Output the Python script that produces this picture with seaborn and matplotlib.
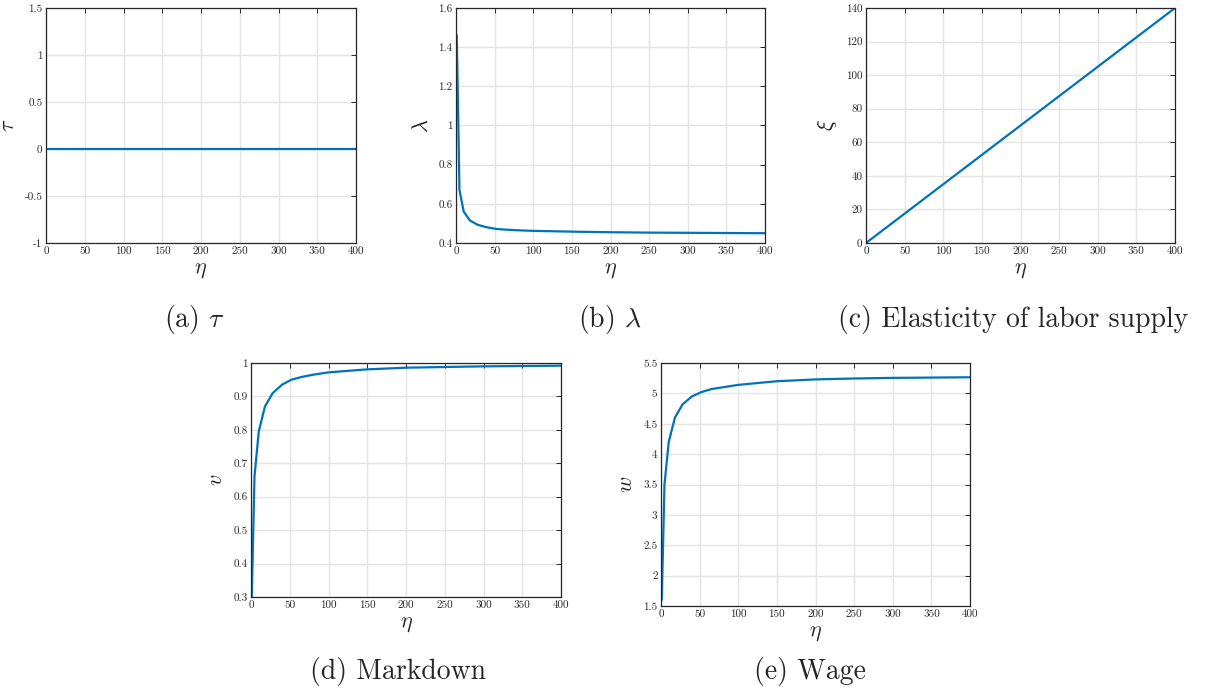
import numpy as np
import pandas as pd
import matplotlib
matplotlib.use("Agg")
import matplotlib.pyplot as plt
import seaborn as sns

# Grid of eta values and the equilibrium objects computed on it
eta = [1, 4.5, 10, 18, 28, 40, 52, 65, 80, 100, 150, 200, 250, 300, 350, 400]
tau = [0.0] * len(eta)
lam = [1.46, 0.67, 0.56, 0.515, 0.493, 0.48, 0.472, 0.468, 0.465, 0.462,
       0.458, 0.455, 0.453, 0.452, 0.451, 0.45]
xi = [0.35, 1.6, 3.5, 6.3, 9.8, 14, 18.2, 22.75, 28, 35,
      52.5, 70, 87.5, 105, 122.5, 140]
markdown = [0.3, 0.66, 0.795, 0.87, 0.91, 0.935, 0.95, 0.958, 0.965, 0.972,
            0.981, 0.986, 0.988, 0.99, 0.991, 0.992]
wage = [1.6, 3.5, 4.2, 4.6, 4.82, 4.95, 5.02, 5.07, 5.1, 5.14,
        5.2, 5.23, 5.245, 5.255, 5.26, 5.265]

x_ticks = [0, 50, 100, 150, 200, 250, 300, 350, 400]
tau_ticks = [-1, -0.5, 0, 0.5, 1, 1.5]
lam_ticks = [0.4, 0.6, 0.8, 1.0, 1.2, 1.4, 1.6]
xi_ticks = [0, 20, 40, 60, 80, 100, 120, 140]
v_ticks = [0.3, 0.4, 0.5, 0.6, 0.7, 0.8, 0.9, 1.0]
w_ticks = [1.5, 2, 2.5, 3, 3.5, 4, 4.5, 5, 5.5]

captions = [r"(a) $\tau$", r"(b) $\lambda$", "(c) Elasticity of labor supply",
            "(d) Markdown", "(e) Wage"]
ylabels = [r"$\tau$", r"$\lambda$", r"$\xi$", r"$v$", r"$w$"]

sns.set_style("white")
plt.rcParams["font.family"] = "serif"
plt.rcParams["font.serif"] = ["cmr10", "DejaVu Serif"]
plt.rcParams["mathtext.fontset"] = "cm"
plt.rcParams["axes.formatter.use_mathtext"] = True

W, H = 1206, 692
fig = plt.figure(figsize=(W / 100, H / 100), dpi=100)


def rect(l, t, r, b):
    return [l / W, 1 - b / H, (r - l) / W, (b - t) / H]


def fmt(v):
    return f"{v:g}"


panels = [
    (rect(46, 8, 356, 243), tau, tau_ticks, (194, 320)),
    (rect(456, 8, 765, 243), lam, lam_ticks, (610, 320)),
    (rect(866, 8, 1175, 243), xi, xi_ticks, (1013, 320)),
    (rect(251, 363, 561, 597), markdown, v_ticks, (398, 672)),
    (rect(661, 363, 970, 606), wage, w_ticks, (810, 672)),
]

for i, (pos, values, yt, cap) in enumerate(panels):
    ax = fig.add_axes(pos)
    df = pd.DataFrame({"eta": eta, "y": values})
    sns.lineplot(data=df, x="eta", y="y", ax=ax, color="#0072BD",
                 linewidth=1.6, estimator=None, sort=False)
    ax.set_xlim(x_ticks[0], x_ticks[-1])
    ax.set_ylim(yt[0], yt[-1])
    ax.set_xticks(x_ticks)
    ax.set_xticklabels([fmt(v) for v in x_ticks])
    ax.set_yticks(yt)
    ax.set_yticklabels([fmt(v) for v in yt])
    ax.grid(True, color="#e4e4e4", linewidth=1.0)
    ax.set_axisbelow(True)
    ax.tick_params(direction="in", length=3.5, width=0.7, labelsize=8,
                   top=True, right=True, pad=2.5, colors="#262626")
    for s in ax.spines.values():
        s.set_color("#262626")
        s.set_linewidth(0.9)
    ax.set_xlabel(r"$\eta$", fontsize=16, labelpad=3)
    ax.set_ylabel(ylabels[i], fontsize=16, labelpad=5)
    fig.text(cap[0] / W, 1 - cap[1] / H, captions[i], fontsize=20,
             ha="center", va="center")

fig.savefig("out.png", dpi=100)
